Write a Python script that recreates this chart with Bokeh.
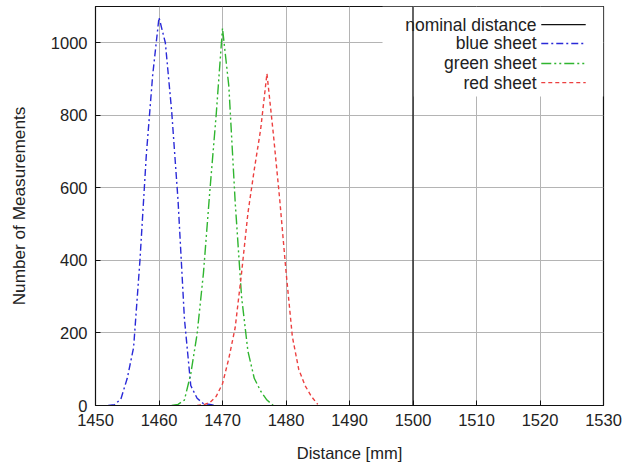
from bokeh.plotting import figure
from bokeh.models import (Span, BoxAnnotation, Label, Arrow, FixedTicker, Range1d)
from bokeh.embed import file_html
from bokeh.resources import INLINE

# ---------------- data ----------------
blue_x = [1452, 1453, 1454, 1455, 1456, 1457, 1458, 1459, 1460, 1461, 1462, 1463,
          1464, 1465, 1466, 1467, 1468, 1469]
blue_y = [0, 2, 18, 75, 160, 400, 690, 910, 1070, 1000, 810, 565,
          240, 55, 20, 5, 3, 0]

green_x = [1462, 1463, 1464, 1465, 1466, 1467, 1468, 1469, 1470, 1471, 1472, 1473,
           1474, 1475, 1476, 1477, 1478]
green_y = [0, 3, 15, 87, 197, 365, 590, 800, 1040, 880, 560, 300,
           150, 75, 40, 15, 0]

red_x = [1466, 1467, 1468, 1469, 1470, 1471, 1472, 1473, 1474, 1475, 1476, 1477,
         1478, 1479, 1480, 1481, 1482, 1483, 1484, 1485]
red_y = [0, 2, 8, 25, 60, 130, 215, 365, 530, 650, 760, 915,
         750, 570, 370, 190, 100, 55, 25, 3]

nominal_distance = 1500

x_ticks = [1450, 1460, 1470, 1480, 1490, 1500, 1510, 1520, 1530]
y_ticks = [0, 200, 400, 600, 800, 1000]

legend_labels = ["nominal distance", "blue sheet", "green sheet", "red sheet"]

# ---------------- styles / layout ----------------
FONT = "Liberation Sans"
FS = "16.5px"
LEG_FS = "17.5px"
BLUE = "#2a2ad8"
GREEN = "#2fb52f"
RED = "#ec4040"
BLACK = "#111111"

p = figure(width=623, height=457, output_backend="svg", toolbar_location=None,
           x_range=Range1d(1450, 1530), y_range=Range1d(0, 1100),
           frame_width=508, frame_height=399,
           min_border_left=95, min_border_right=20, min_border_top=6, min_border_bottom=52,
           x_axis_label="Distance [mm]", y_axis_label="Number of Measurements")
p.background_fill_color = "white"
p.border_fill_color = "white"
p.outline_line_color = BLACK
p.outline_line_width = 1.2

for ax in (p.xaxis[0], p.yaxis[0]):
    ax.axis_line_color = BLACK
    ax.major_tick_in = 5
    ax.major_tick_out = 0
    ax.minor_tick_line_color = None
    ax.major_tick_line_color = BLACK
    ax.major_label_text_font = FONT
    ax.major_label_text_font_size = FS
    ax.major_label_text_color = "#222222"
    ax.axis_label_text_font = FONT
    ax.axis_label_text_font_size = FS
    ax.axis_label_text_font_style = "normal"
    ax.axis_label_text_color = "#222222"
    ax.major_label_standoff = 8

p.yaxis[0].axis_label_text_font_size = "17.2px"
p.xaxis[0].ticker = FixedTicker(ticks=x_ticks)
p.yaxis[0].ticker = FixedTicker(ticks=y_ticks)
p.xaxis[0].axis_label_standoff = 15
p.yaxis[0].axis_label_standoff = 19

p.xgrid[0].ticker = FixedTicker(ticks=x_ticks)
p.ygrid[0].ticker = FixedTicker(ticks=y_ticks)
for g in (p.xgrid[0], p.ygrid[0]):
    g.grid_line_color = "#b4b4b4"
    g.grid_line_width = 1

# legend background (hides grid, under the data)
leg_left, leg_bottom = 1495.2, 852
box = BoxAnnotation(left=leg_left, bottom=leg_bottom, fill_color="white", fill_alpha=1.0,
                    line_color=None, level="underlay")
p.add_layout(box)

# data
p.add_layout(Span(location=nominal_distance, dimension="height", line_color=BLACK,
                  line_width=1.3))
p.line(blue_x, blue_y, line_color=BLUE, line_width=1.4, line_dash="7 3 2 3")
p.line(green_x, green_y, line_color=GREEN, line_width=1.4, line_dash="10 3 2 3 2 3")
p.line(red_x, red_y, line_color=RED, line_width=1.4, line_dash="4 3")

# manual legend (label on the left, sample on the right)
leg_text_x = 1519.45
leg_line_x0, leg_line_x1 = 1520.2, 1527.2
leg_rows = [1050, 998, 943, 890]
leg_styles = [(BLACK, "solid"), (BLUE, "7 3 2 3"), (GREEN, "10 3 2 3 2 3"), (RED, "4 3")]
for lab, yy, (col, dash) in zip(legend_labels, leg_rows, leg_styles):
    p.add_layout(Label(x=leg_text_x, y=yy, text=lab, text_align="right",
                       text_baseline="middle", text_font=FONT, text_font_size=LEG_FS,
                       text_color="#222222"))
    p.add_layout(Arrow(end=None, start=None, x_start=leg_line_x0, y_start=yy,
                       x_end=leg_line_x1, y_end=yy, line_color=col, line_width=1.4,
                       line_dash=dash))

open("out.html", "w").write(file_html(p, INLINE))
